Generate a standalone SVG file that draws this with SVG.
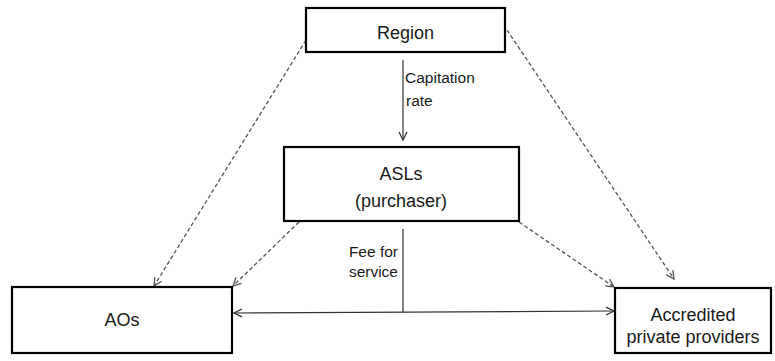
<svg xmlns="http://www.w3.org/2000/svg" width="775" height="361" viewBox="0 0 775 361">
<defs>
<style>
.box{fill:#fff;stroke:#000;stroke-width:2.2}
.t{font-family:"Liberation Sans",Arial,sans-serif;font-size:18px;fill:#1a1a1a;text-anchor:middle}
.lbl{font-family:"Liberation Sans",Arial,sans-serif;font-size:15.5px;fill:#1a1a1a}
.solid{fill:none;stroke:#333;stroke-width:1.2}
.dash{fill:none;stroke:#555;stroke-width:1.3;stroke-dasharray:4 2.5}
</style>
<marker id="ah" viewBox="0 0 10 10" refX="9" refY="5" markerWidth="10" markerHeight="10" markerUnits="userSpaceOnUse" orient="auto-start-reverse">
<path d="M1,1 L9,5 L1,9" fill="none" stroke="#333" stroke-width="1.3"/>
</marker>
<marker id="ahd" viewBox="0 0 10 10" refX="9" refY="5" markerWidth="10" markerHeight="10" markerUnits="userSpaceOnUse" orient="auto">
<path d="M1,1 L9,5 L1,9" fill="none" stroke="#555" stroke-width="1.3"/>
</marker>
</defs>
<rect width="775" height="361" fill="#fff"/>
<g id="connectors">
<line class="solid" x1="403" y1="60" x2="403" y2="140" marker-end="url(#ah)"/>
<line class="solid" x1="403" y1="229" x2="403" y2="312"/>
<line class="solid" x1="234" y1="313" x2="614" y2="311" marker-start="url(#ah)" marker-end="url(#ah)"/>
<line class="dash" x1="306" y1="40" x2="154" y2="286" marker-end="url(#ahd)"/>
<line class="dash" x1="299" y1="222" x2="233" y2="286" marker-end="url(#ahd)"/>
<line class="dash" x1="507" y1="30" x2="674" y2="279" marker-end="url(#ahd)"/>
<line class="dash" x1="519" y1="222" x2="614" y2="287" marker-end="url(#ahd)"/>
<text class="lbl" x="405" y="83">Capitation</text>
<text class="lbl" x="406" y="106">rate</text>
<text class="lbl" x="398" y="257" text-anchor="end">Fee for</text>
<text class="lbl" x="398" y="277" text-anchor="end">service</text>
</g>
<g id="region">
<rect class="box" x="306" y="8" width="199" height="44"/>
<text class="t" x="405.5" y="39">Region</text>
</g>
<g id="asls">
<rect class="box" x="284" y="147" width="235" height="74"/>
<text class="t" x="401" y="180">ASLs</text>
<text class="t" x="401" y="207">(purchaser)</text>
</g>
<g id="aos">
<rect class="box" x="12" y="287" width="220" height="66"/>
<text class="t" x="122" y="326">AOs</text>
</g>
<g id="providers">
<rect class="box" x="615" y="288" width="156" height="65"/>
<text class="t" x="693" y="321">Accredited</text>
<text class="t" x="693" y="343">private providers</text>
</g>
</svg>
